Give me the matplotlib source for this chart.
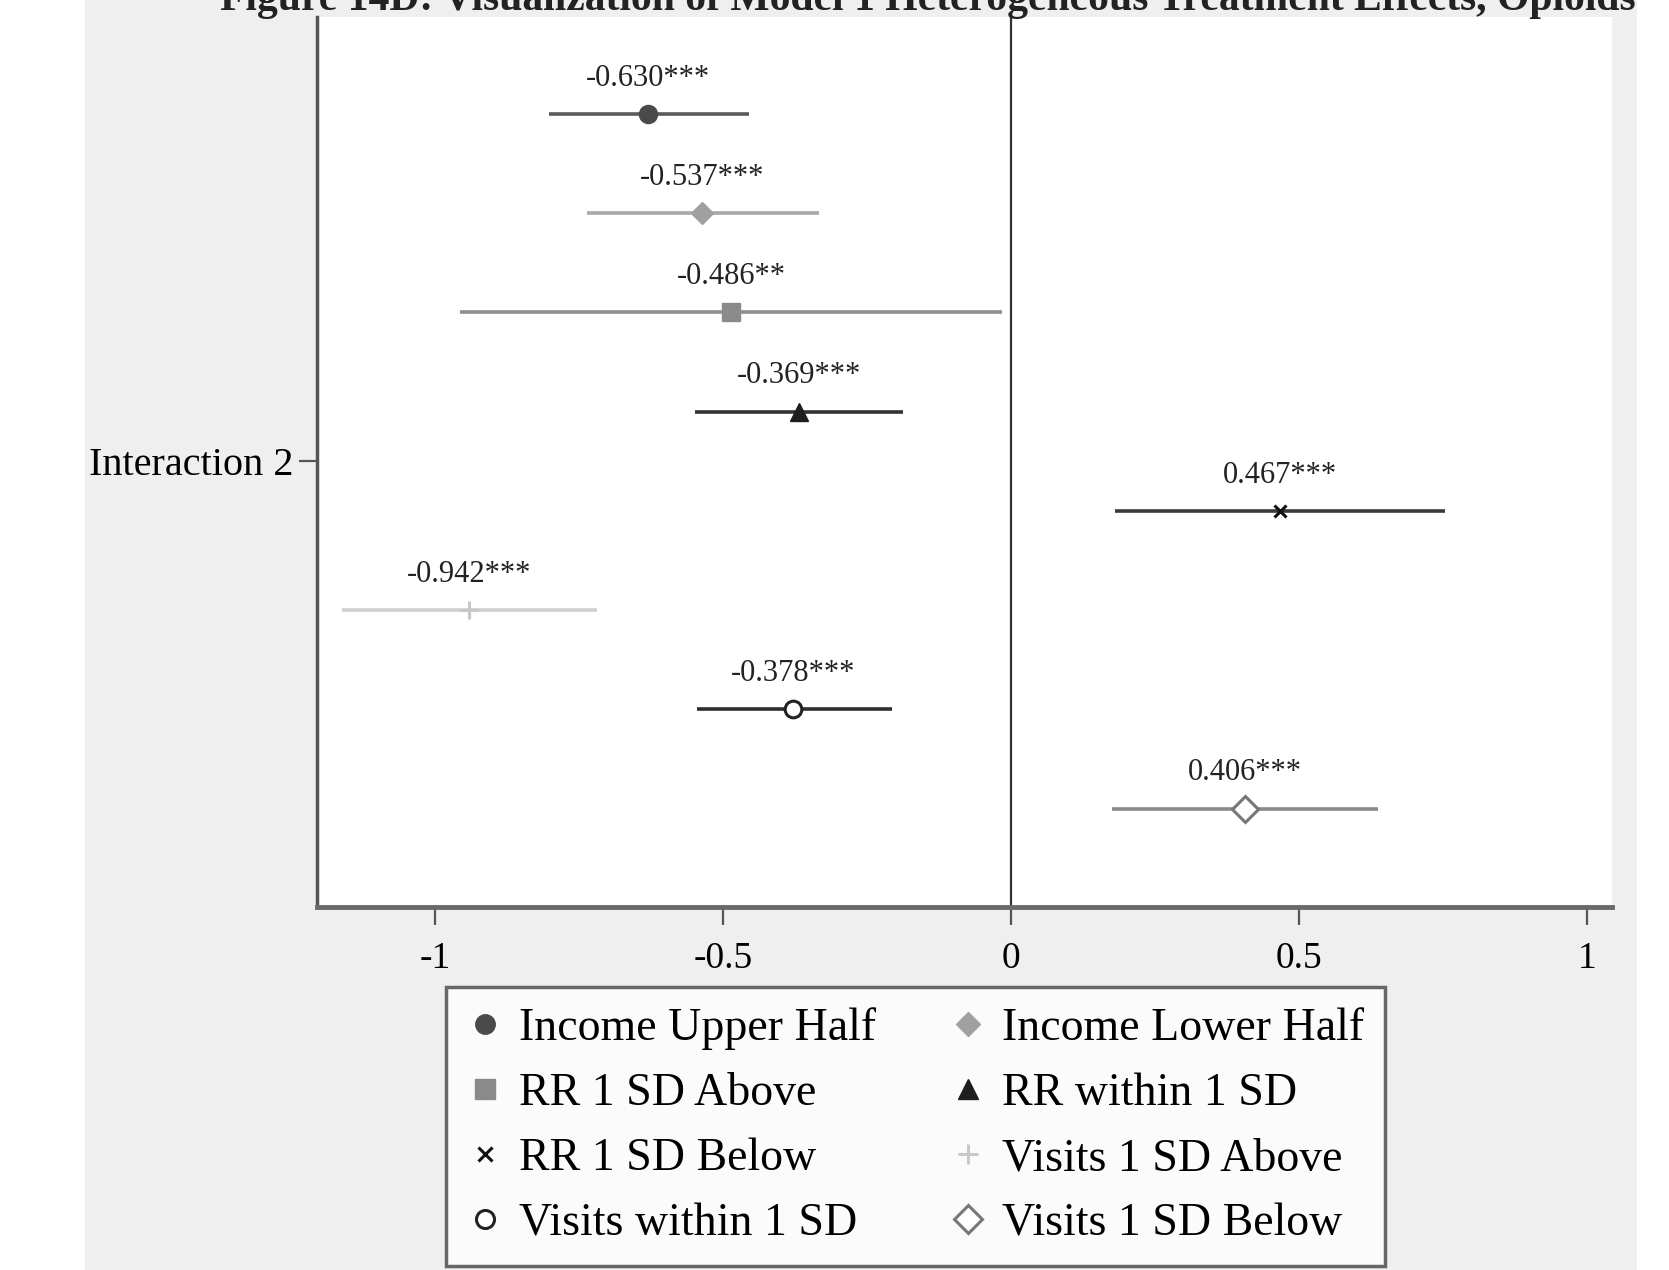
import matplotlib.pyplot as plt
from matplotlib.lines import Line2D
from matplotlib.patches import Rectangle

# coefficient estimates with 95% CIs, Interaction 2
groups = ['Income Upper Half', 'Income Lower Half', 'RR 1 SD Above', 'RR within 1 SD',
          'RR 1 SD Below', 'Visits 1 SD Above', 'Visits within 1 SD', 'Visits 1 SD Below']
coef = [-0.630, -0.537, -0.486, -0.369, 0.467, -0.942, -0.378, 0.406]
ci_low = [-0.802, -0.737, -0.957, -0.549, 0.181, -1.161, -0.545, 0.176]
ci_high = [-0.455, -0.333, -0.015, -0.187, 0.754, -0.719, -0.207, 0.638]
stars = ['***', '***', '**', '***', '***', '***', '***', '***']
rows = [1, 2, 3, 4, 5, 6, 7, 8]
xticks = [-1, -0.5, 0, 0.5, 1]
xtick_labels = ['-1', '-0.5', '0', '0.5', '1']

# styling for each group
markers = ['o', 'D', 's', '^', 'x', '+', 'o', 'D']
line_colors = ['#5a5a5a', '#a8a8a8', '#8e8e8e', '#333333', '#3a3a3a', '#cfcfcf', '#2e2e2e', '#8a8a8a']
face_colors = ['#4a4a4a', '#a0a0a0', '#8a8a8a', '#1e1e1e', '#111111', '#c8c8c8', 'white', 'white']
edge_colors = ['#4a4a4a', '#a0a0a0', '#8a8a8a', '#1e1e1e', '#111111', '#c8c8c8', '#222222', '#777777']
msizes = [13, 11, 13, 13, 9, 13, 12, 13]

plt.rcParams['font.family'] = ['Liberation Serif', 'DejaVu Serif']

fig = plt.figure(figsize=(16.69, 12.70), dpi=100)
fig.patch.set_facecolor('white')
fig.patches.append(Rectangle((0.051, 0), 0.93, 1, transform=fig.transFigure,
                             facecolor='#efefef', edgecolor='none', zorder=-10))

ax = fig.add_axes([0.190, 0.286, 0.776, 0.701])
ax.set_facecolor('white')

for i in range(len(groups)):
    ax.plot([ci_low[i], ci_high[i]], [rows[i], rows[i]], color=line_colors[i], lw=2.6,
            solid_capstyle='butt', zorder=2)
    ax.plot(coef[i], rows[i], marker=markers[i], ms=msizes[i], color=edge_colors[i],
            markerfacecolor=face_colors[i], markeredgecolor=edge_colors[i],
            mew=2.2 if markers[i] in ('x', '+') or face_colors[i] == 'white' else 1,
            linestyle='none', zorder=3)
    ax.text(coef[i], rows[i] - 0.36, f'{coef[i]:.3f}{stars[i]}', ha='center', va='center',
            fontsize=22, color='#222222')

ax.axvline(0, color='#333333', lw=1.6, zorder=1)

ax.set_xlim(-1.205, 1.044)
ax.set_ylim(8.99, 0.02)
ax.set_xticks(xticks)
ax.set_xticklabels(xtick_labels, fontsize=27)
ax.set_yticks([4.5])
ax.set_yticklabels(['Interaction 2'], fontsize=29)
ax.tick_params(axis='x', length=13, width=1.6, color='#555555', pad=12)
ax.tick_params(axis='y', length=13, width=1.6, color='#555555', pad=4)

for s in ['top', 'right']:
    ax.spines[s].set_visible(False)
ax.spines['left'].set_color('#555555')
ax.spines['left'].set_linewidth(2.5)
ax.spines['bottom'].set_color('#6a6a6a')
ax.spines['bottom'].set_linewidth(3.5)

# legend laid out row by row as in the original
handles = [Line2D([], [], marker=markers[i], linestyle='none', ms=msizes[i] + 1,
                  color=edge_colors[i], markerfacecolor=face_colors[i],
                  markeredgecolor=edge_colors[i],
                  mew=2.2 if markers[i] in ('x', '+') or face_colors[i] == 'white' else 1)
           for i in range(len(groups))]
order = [0, 2, 4, 6, 1, 3, 5, 7]
leg = fig.legend([handles[i] for i in order], [groups[i] for i in order], ncol=2,
                 loc='upper center', bbox_to_anchor=(0.5485, 0.223), borderaxespad=0,
                 fontsize=33, frameon=True, fancybox=False, edgecolor='#444444',
                 facecolor='white', handletextpad=0.35, columnspacing=1.6,
                 labelspacing=0.49, borderpad=0.45, handlelength=0.8)
leg.get_frame().set_linewidth(2.5)

fig.text(0.556, 1.0, 'Figure 14D: Visualization of Model 1 Heterogeneous Treatment Effects, Opioids',
         ha='center', va='center', fontsize=30, fontweight='bold', color='#222222')

plt.savefig('out.png', dpi=100, facecolor=fig.get_facecolor())
